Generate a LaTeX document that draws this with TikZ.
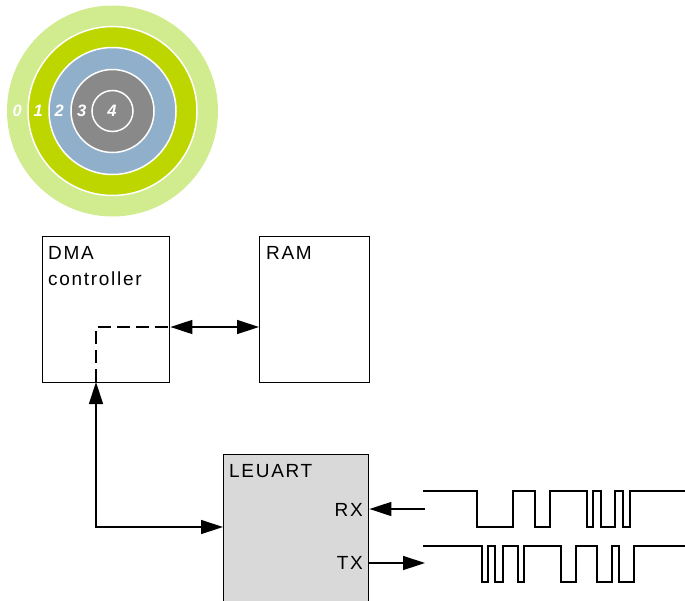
\documentclass[tikz,border=0pt]{standalone}
\usepackage{fontspec}
\setmainfont{Liberation Sans}
\newfontfamily\boxfont[LetterSpace=9]{Liberation Sans}
\usetikzlibrary{arrows.meta}
\definecolor{ringA}{HTML}{D1EB8F}
\definecolor{ringB}{HTML}{BED600}
\definecolor{ringC}{HTML}{8FAFCB}
\definecolor{ringD}{HTML}{898989}
\definecolor{boxgray}{HTML}{D9D9D9}
\tikzset{
  ring/.style={draw=white, line width=1.5pt},
  ringlbl/.style={text=white, font=\fontsize{16.5}{16}\selectfont\bfseries\itshape, inner sep=0pt},
  blockbox/.style={draw=black, line width=1.4pt, inner sep=0pt, anchor=north west},
  txt/.style={font=\boxfont\fontsize{19}{20}\selectfont, inner sep=0pt},
  conn/.style={line width=1.4pt},
  tip/.style={-{Triangle[length=22pt,width=14pt]}},
  wave/.style={line width=1.4pt, line join=miter},
}
\begin{document}
\begin{tikzpicture}[x=1pt,y=-1pt]
\useasboundingbox (0,0) rectangle (685,600);
\clip (0,0) rectangle (685,600);
% rings
\fill[ringA] (112.5,111) circle (105.5);
\filldraw[ring, fill=ringB] (112.5,111) circle (84.5);
\filldraw[ring, fill=ringC] (112.5,111) circle (63.5);
\filldraw[ring, fill=ringD] (112.5,111) circle (41.5);
\filldraw[ring, fill=ringD] (112.5,111) circle (20.5);
\node[ringlbl] (l0) at (17.3,111) {0};
\node[ringlbl] (l1) at (38.3,111) {1};
\node[ringlbl] (l2) at (59.3,111) {2};
\node[ringlbl] (l3) at (81.7,111) {3};
\node[ringlbl] (l4) at (112,111) {4};
% blocks
\node[blockbox, minimum width=127pt, minimum height=146pt] (dma) at (42,236) {};
\node[blockbox, minimum width=110pt, minimum height=146pt] (ram) at (259,236) {};
\node[blockbox, fill=boxgray, minimum width=145pt, minimum height=160pt] (leuart) at (223,454) {};
\node[txt, anchor=base west] (tdma) at (48,259) {DMA};
\node[txt, anchor=base west] (tctl) at (48,285) {controller};
\node[txt, anchor=base west] (tram) at (266,259) {RAM};
\node[txt, anchor=base west] (tleu) at (229,477) {LEUART};
\node[txt, anchor=base east] (trx) at (363,516) {RX};
\node[txt, anchor=base east] (ttx) at (363,569) {TX};
% connectors
\coordinate (corner) at (96,327);
\coordinate (dmaport) at (96,382);
\coordinate (turn) at (96,527);
\coordinate (rxin) at (425,509);
\coordinate (txout) at (425,563);
\draw[conn, dash pattern=on 13pt off 6pt] (dmaport) -- (corner) -- (dma.east |- corner);
\draw[conn, {Triangle[length=22pt,width=14pt]}-{Triangle[length=22pt,width=14pt]}] (dma.east |- corner) -- (ram.west |- corner);
\draw[conn, {Triangle[length=22pt,width=14pt]}-{Triangle[length=22pt,width=14pt]}] (dmaport) -- (turn) -- (leuart.west |- turn);
\draw[conn, tip] (rxin) -- (leuart.east |- rxin);
\draw[conn, tip] (leuart.east |- txout) -- (txout);
% waveforms
\draw[wave] (423,491) -- (477,491) -- (477,527) -- (513,527) -- (513,491) -- (535,491) -- (535,527) -- (550,527) -- (550,491) -- (587,491) -- (587,527) -- (593,527) -- (593,491) -- (601,491) -- (601,527) -- (615,527) -- (615,491) -- (623,491) -- (623,527) -- (630,527) -- (630,491) -- (686,491);
\draw[wave] (423,546) -- (482,546) -- (482,582) -- (488,582) -- (488,546) -- (495,546) -- (495,582) -- (503,582) -- (503,546) -- (518,546) -- (518,582) -- (524,582) -- (524,546) -- (561,546) -- (561,582) -- (576,582) -- (576,546) -- (597,546) -- (597,582) -- (612,582) -- (612,546) -- (619,546) -- (619,582) -- (634,582) -- (634,546) -- (686,546);
\end{tikzpicture}
\end{document}
